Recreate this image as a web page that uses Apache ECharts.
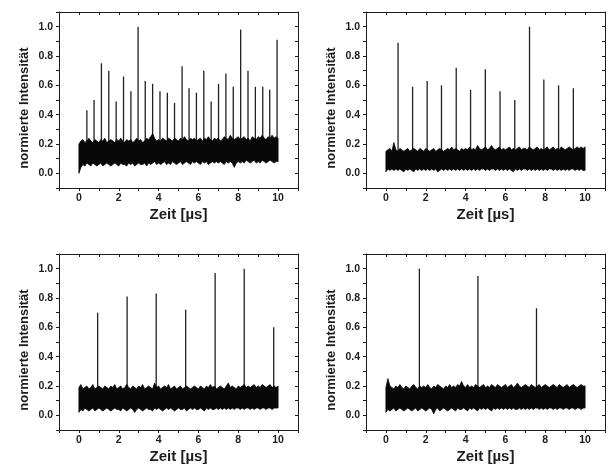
<!DOCTYPE html>
<html>
<head>
<meta charset="utf-8">
<script src="https://cdn.jsdelivr.net/npm/echarts@6/dist/echarts.min.js"></script>
<style>
  html, body { margin: 0; padding: 0; background: #fff; }
  #chart { width: 613px; height: 466px; }
</style>
</head>
<body>
<div id="chart"></div>
<script>
// Four time traces of normalised intensity: a noise floor (upper/lower envelope,
// sampled every BAND_STEP µs from 0 to 10 µs) plus discrete pulses.
const X_TICKS = [0, 2, 4, 6, 8, 10];
const Y_TICKS = [0.0, 0.2, 0.4, 0.6, 0.8, 1.0];
const X_TITLE = 'Zeit [µs]';
const Y_TITLE = 'normierte Intensität';
const BAND_STEP = 0.1;

// Panel A (top left)
const A_PULSE_T = [0.40, 0.76, 1.13, 1.50, 1.87, 2.24, 2.61, 2.97, 3.33, 3.70, 4.07, 4.44, 4.80, 5.18, 5.53, 5.90, 6.27, 6.64, 7.01, 7.38, 7.75, 8.12, 8.49, 8.86, 9.23, 9.58, 9.95];
const A_PULSE_H = [0.43, 0.50, 0.75, 0.70, 0.49, 0.66, 0.56, 1.00, 0.63, 0.61, 0.56, 0.55, 0.48, 0.73, 0.58, 0.55, 0.70, 0.49, 0.61, 0.68, 0.59, 0.98, 0.70, 0.59, 0.59, 0.57, 0.91];
const A_NOISE_HI = [0.20,0.22,0.23,0.21,0.22,0.24,0.22,0.21,0.23,0.22, 0.21,0.23,0.22,0.24,0.21,0.22,0.23,0.22,0.21,0.23, 0.22,0.24,0.22,0.21,0.23,0.22,0.23,0.21,0.22,0.24, 0.22,0.23,0.21,0.22,0.24,0.23,0.25,0.27,0.24,0.22, 0.23,0.22,0.24,0.23,0.22,0.24,0.23,0.22,0.24,0.23, 0.22,0.24,0.23,0.25,0.23,0.22,0.24,0.23,0.24,0.22, 0.23,0.24,0.22,0.24,0.23,0.25,0.23,0.22,0.24,0.23, 0.24,0.22,0.23,0.25,0.24,0.23,0.26,0.24,0.23,0.24, 0.25,0.23,0.24,0.25,0.23,0.24,0.22,0.25,0.24,0.23, 0.25,0.24,0.26,0.24,0.23,0.25,0.24,0.26,0.24,0.25, 0.24];
const A_NOISE_LO = [0.00,0.04,0.06,0.05,0.07,0.06,0.05,0.07,0.06,0.05, 0.06,0.07,0.05,0.06,0.07,0.06,0.05,0.06,0.07,0.06, 0.05,0.07,0.06,0.06,0.05,0.07,0.06,0.07,0.05,0.06, 0.07,0.06,0.06,0.07,0.05,0.07,0.06,0.07,0.08,0.06, 0.07,0.06,0.07,0.08,0.06,0.07,0.06,0.08,0.07,0.06, 0.07,0.08,0.06,0.07,0.08,0.07,0.06,0.08,0.07,0.08, 0.07,0.06,0.08,0.07,0.08,0.06,0.07,0.08,0.07,0.08, 0.07,0.08,0.07,0.06,0.08,0.07,0.08,0.07,0.04,0.07, 0.08,0.07,0.08,0.07,0.09,0.08,0.07,0.08,0.09,0.07, 0.08,0.07,0.09,0.08,0.07,0.08,0.09,0.08,0.07,0.08, 0.08];

// Panel B (top right)
const B_PULSE_T = [0.61, 1.34, 2.07, 2.79, 3.53, 4.25, 4.99, 5.73, 6.47, 7.21, 7.93, 8.67, 9.41];
const B_PULSE_H = [0.89, 0.59, 0.63, 0.60, 0.72, 0.57, 0.71, 0.56, 0.50, 1.00, 0.64, 0.60, 0.58];
const B_NOISE_HI = [0.15,0.16,0.17,0.15,0.21,0.16,0.15,0.17,0.16,0.15, 0.16,0.17,0.15,0.16,0.17,0.16,0.15,0.17,0.16,0.15, 0.17,0.16,0.15,0.16,0.17,0.15,0.16,0.17,0.16,0.15, 0.16,0.17,0.16,0.18,0.16,0.17,0.16,0.15,0.17,0.16, 0.17,0.16,0.18,0.16,0.17,0.16,0.19,0.17,0.16,0.17, 0.18,0.16,0.17,0.19,0.17,0.16,0.17,0.18,0.16,0.17, 0.16,0.17,0.18,0.16,0.17,0.16,0.17,0.18,0.16,0.17, 0.17,0.16,0.18,0.17,0.16,0.17,0.18,0.16,0.17,0.16, 0.17,0.18,0.16,0.17,0.18,0.16,0.17,0.16,0.18,0.17, 0.16,0.17,0.18,0.17,0.16,0.17,0.18,0.17,0.18,0.17, 0.18];
const B_NOISE_LO = [0.01,0.03,0.02,0.03,0.02,0.03,0.02,0.03,0.02,0.01, 0.03,0.02,0.03,0.02,0.01,0.03,0.02,0.03,0.02,0.03, 0.02,0.03,0.02,0.03,0.02,0.03,0.01,0.02,0.03,0.02, 0.03,0.02,0.03,0.02,0.03,0.02,0.03,0.02,0.03,0.02, 0.03,0.02,0.03,0.02,0.03,0.02,0.03,0.02,0.03,0.03, 0.02,0.03,0.02,0.03,0.03,0.02,0.03,0.02,0.03,0.02, 0.03,0.02,0.03,0.02,0.01,0.03,0.02,0.03,0.02,0.03, 0.03,0.02,0.03,0.02,0.03,0.02,0.03,0.02,0.03,0.02, 0.03,0.02,0.03,0.03,0.02,0.03,0.02,0.03,0.02,0.03, 0.02,0.03,0.02,0.03,0.03,0.02,0.03,0.02,0.03,0.02, 0.02];

// Panel C (bottom left)
const C_PULSE_T = [0.94, 2.42, 3.88, 5.36, 6.84, 8.30, 9.78];
const C_PULSE_H = [0.70, 0.81, 0.83, 0.72, 0.97, 1.00, 0.60];
const C_NOISE_HI = [0.19,0.21,0.18,0.19,0.20,0.18,0.19,0.21,0.18,0.19, 0.20,0.19,0.18,0.20,0.19,0.18,0.20,0.19,0.21,0.18, 0.19,0.20,0.18,0.19,0.21,0.19,0.18,0.20,0.19,0.18, 0.20,0.19,0.21,0.18,0.19,0.20,0.19,0.18,0.22,0.19, 0.20,0.18,0.19,0.20,0.19,0.21,0.18,0.19,0.20,0.18, 0.19,0.20,0.18,0.19,0.20,0.19,0.18,0.19,0.20,0.19, 0.18,0.20,0.19,0.18,0.20,0.19,0.21,0.19,0.20,0.18, 0.19,0.20,0.19,0.18,0.20,0.22,0.19,0.20,0.19,0.18, 0.20,0.19,0.20,0.21,0.19,0.20,0.19,0.20,0.21,0.19, 0.20,0.19,0.21,0.20,0.19,0.20,0.21,0.19,0.20,0.19, 0.20];
const C_NOISE_LO = [0.02,0.04,0.03,0.05,0.04,0.03,0.04,0.05,0.03,0.04, 0.05,0.04,0.03,0.04,0.05,0.04,0.03,0.04,0.05,0.04, 0.04,0.03,0.05,0.04,0.03,0.04,0.05,0.04,0.02,0.04, 0.05,0.04,0.03,0.04,0.05,0.04,0.04,0.03,0.05,0.04, 0.05,0.04,0.03,0.04,0.05,0.04,0.05,0.04,0.03,0.04, 0.05,0.04,0.04,0.05,0.03,0.04,0.05,0.04,0.05,0.04, 0.04,0.05,0.04,0.03,0.05,0.04,0.05,0.04,0.04,0.05, 0.04,0.05,0.04,0.05,0.04,0.05,0.04,0.05,0.04,0.05, 0.05,0.04,0.05,0.04,0.05,0.05,0.04,0.05,0.04,0.05, 0.05,0.04,0.05,0.05,0.04,0.05,0.05,0.04,0.05,0.05, 0.05];

// Panel D (bottom right)
const D_PULSE_T = [1.68, 4.62, 7.56];
const D_PULSE_H = [1.00, 0.95, 0.73];
const D_NOISE_HI = [0.19,0.25,0.20,0.19,0.18,0.20,0.19,0.21,0.19,0.18, 0.20,0.19,0.18,0.20,0.21,0.19,0.18,0.20,0.19,0.20, 0.19,0.21,0.19,0.18,0.20,0.19,0.21,0.20,0.19,0.18, 0.20,0.19,0.21,0.19,0.20,0.19,0.21,0.20,0.23,0.20, 0.19,0.21,0.19,0.20,0.19,0.21,0.20,0.19,0.20,0.21, 0.19,0.20,0.19,0.21,0.20,0.19,0.21,0.20,0.19,0.20, 0.21,0.19,0.20,0.21,0.19,0.20,0.22,0.20,0.19,0.20, 0.21,0.20,0.19,0.21,0.20,0.19,0.20,0.21,0.19,0.20, 0.21,0.20,0.19,0.20,0.21,0.20,0.19,0.21,0.20,0.19, 0.20,0.21,0.19,0.20,0.21,0.20,0.19,0.20,0.21,0.20, 0.20];
const D_NOISE_LO = [0.02,0.04,0.03,0.04,0.05,0.03,0.04,0.05,0.04,0.03, 0.04,0.05,0.04,0.03,0.04,0.05,0.03,0.04,0.05,0.04, 0.03,0.04,0.05,0.04,0.01,0.04,0.05,0.03,0.04,0.05, 0.04,0.03,0.04,0.05,0.04,0.03,0.05,0.04,0.04,0.05, 0.04,0.03,0.05,0.04,0.05,0.04,0.03,0.05,0.04,0.05, 0.04,0.05,0.04,0.03,0.05,0.04,0.05,0.04,0.05,0.04, 0.05,0.04,0.05,0.04,0.05,0.04,0.04,0.05,0.04,0.05, 0.04,0.05,0.04,0.05,0.04,0.05,0.05,0.04,0.05,0.04, 0.05,0.04,0.05,0.05,0.04,0.05,0.04,0.05,0.05,0.04, 0.05,0.05,0.04,0.05,0.05,0.04,0.05,0.05,0.04,0.05, 0.05];

const PANELS = [
  { t: A_PULSE_T, h: A_PULSE_H, hi: A_NOISE_HI, lo: A_NOISE_LO },
  { t: B_PULSE_T, h: B_PULSE_H, hi: B_NOISE_HI, lo: B_NOISE_LO },
  { t: C_PULSE_T, h: C_PULSE_H, hi: C_NOISE_HI, lo: C_NOISE_LO },
  { t: D_PULSE_T, h: D_PULSE_H, hi: D_NOISE_HI, lo: D_NOISE_LO }
];

const GRIDS = [
  { left: 59,  top: 12,  width: 239, height: 176 },
  { left: 366, top: 12,  width: 239, height: 176 },
  { left: 59,  top: 254, width: 239, height: 176 },
  { left: 366, top: 254, width: 239, height: 176 }
];

const FONT = '"Liberation Sans", Arial, sans-serif';
const INK = '#1c1c1c';

function xLabel(v) {
  const r = Math.round(v);
  return X_TICKS.indexOf(r) >= 0 && Math.abs(v - r) < 1e-6 ? String(r) : '';
}
function yLabel(v) {
  const r = Math.round(v * 10) / 10;
  return Y_TICKS.some(t => Math.abs(t - r) < 1e-6) && Math.abs(v - r) < 1e-6 ? r.toFixed(1) : '';
}

const xAxes = [], yAxes = [], series = [], titles = [];
PANELS.forEach((p, i) => {
  const g = GRIDS[i];
  const lineStyle = { color: INK, width: 1 };
  xAxes.push({
    gridIndex: i, type: 'value', position: 'bottom', min: -1, max: 11, interval: 1,
    name: X_TITLE, nameLocation: 'middle', nameGap: 19,
    nameTextStyle: { fontFamily: FONT, fontWeight: 'bold', fontSize: 15, color: INK },
    axisLine: { show: true, onZero: false, lineStyle },
    axisTick: { show: true, inside: false, length: 3, lineStyle },
    axisLabel: { show: true, margin: 5, formatter: xLabel, fontFamily: FONT, fontWeight: 'bold', fontSize: 10.5, color: INK },
    splitLine: { show: false }
  });
  xAxes.push({
    gridIndex: i, type: 'value', position: 'top', min: -1, max: 11, interval: 1,
    axisLine: { show: true, onZero: false, lineStyle },
    axisTick: { show: true, inside: true, length: 3, lineStyle },
    axisLabel: { show: false }, splitLine: { show: false }
  });
  yAxes.push({
    gridIndex: i, type: 'value', position: 'left', min: -0.1, max: 1.1, interval: 0.1,
    axisLine: { show: true, onZero: false, lineStyle },
    axisTick: { show: true, inside: false, length: 3, lineStyle },
    axisLabel: { show: true, margin: 6, formatter: yLabel, fontFamily: FONT, fontWeight: 'bold', fontSize: 10.5, color: INK },
    splitLine: { show: false }
  });
  yAxes.push({
    gridIndex: i, type: 'value', position: 'right', min: -0.1, max: 1.1, interval: 0.1,
    axisLine: { show: true, onZero: false, lineStyle },
    axisTick: { show: true, inside: true, length: 3, lineStyle },
    axisLabel: { show: false }, splitLine: { show: false }
  });

  // vertical axis title, rotated to read bottom-to-top
  titles.push({
    type: 'text',
    x: g.left - 35, y: g.top + g.height / 2 + 8,
    rotation: Math.PI / 2,
    style: {
      text: Y_TITLE, fontFamily: FONT, fontWeight: 'bold', fontSize: 13,
      fill: INK, align: 'center', verticalAlign: 'middle'
    }
  });

  // pulses: vertical lines from the floor up to their peak (drawn beneath the floor)
  series.push({
    type: 'custom', xAxisIndex: 2 * i, yAxisIndex: 2 * i, silent: true, z: 2,
    encode: { x: 0, y: 1 },
    data: p.t.map((tv, k) => [tv, p.h[k]]),
    renderItem(params, api) {
      const a = api.coord([api.value(0), 0.1]);
      const b = api.coord([api.value(0), api.value(1)]);
      return {
        type: 'line',
        shape: { x1: a[0], y1: a[1], x2: b[0], y2: b[1] },
        style: { stroke: '#202020', lineWidth: 1.3 }
      };
    }
  });

  // noise floor: one filled outline, upper envelope forward, lower envelope back
  const band = p.hi.map((hv, k) => [k * BAND_STEP, p.lo[k], hv]);
  series.push({
    type: 'custom', xAxisIndex: 2 * i, yAxisIndex: 2 * i, silent: true, z: 3,
    encode: { x: 0, y: [1, 2] },
    data: band,
    renderItem(params, api) {
      if (params.dataIndex !== 0) return null;
      const upper = band.map(d => api.coord([d[0], d[2]]));
      const lower = band.map(d => api.coord([d[0], d[1]])).reverse();
      return {
        type: 'polygon',
        shape: { points: upper.concat(lower) },
        style: { fill: '#080808', stroke: '#080808', lineWidth: 0.8 }
      };
    }
  });
});

const chart = echarts.init(document.getElementById('chart'), null, { renderer: 'canvas' });
chart.setOption({
  animation: false,
  backgroundColor: '#fff',
  grid: GRIDS,
  xAxis: xAxes,
  yAxis: yAxes,
  graphic: titles,
  series
});
</script>
</body>
</html>
